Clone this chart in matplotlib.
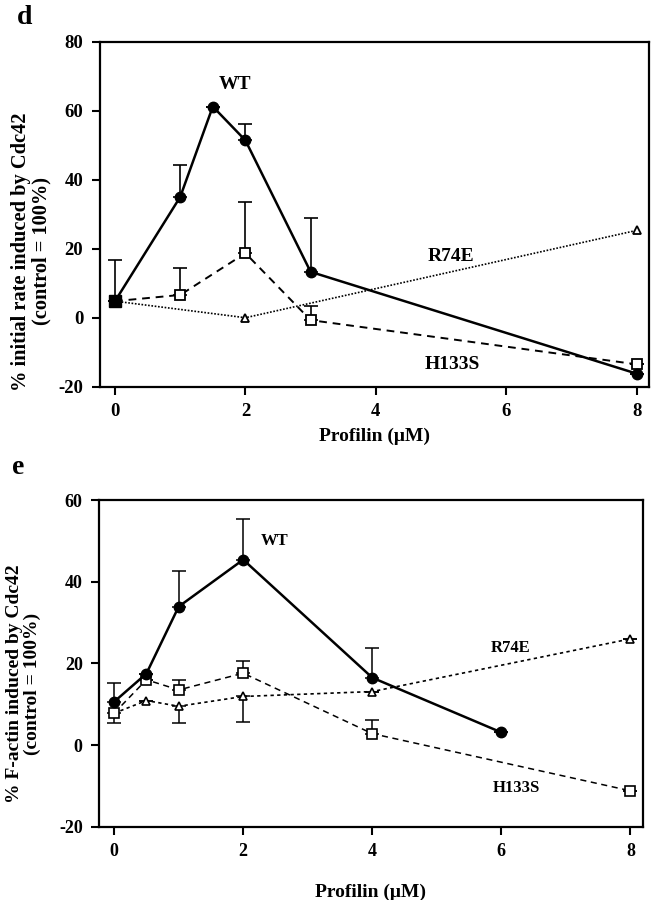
import numpy as np
import matplotlib
matplotlib.use("Agg")
import matplotlib.pyplot as plt

plt.rcParams['font.family'] = ['Liberation Serif', 'DejaVu Serif']
plt.rcParams['font.weight'] = 'bold'
plt.rcParams['axes.unicode_minus'] = False

# ---- panel d : initial rate ----
d_wt_x = [0, 1, 1.5, 2, 3, 8]
d_wt_y = [4.8, 35, 61.2, 51.4, 13.3, -16.2]
d_wt_up = [12, 9.2, 0, 4.8, 15.5, 0]

d_h_x = [0, 1, 2, 3, 8]
d_h_y = [4.8, 6.6, 18.7, -0.7, -13.5]
d_h_up = [0, 7.9, 14.9, 4.1, 0]

d_r_x = [0, 2, 8]
d_r_y = [4.8, 0, 25.3]

# ---- panel e : F-actin ----
e_wt_x = [0, 0.5, 1, 2, 4, 6]
e_wt_y = [10.6, 17.5, 33.9, 45.4, 16.5, 3.1]
e_wt_up = [4.7, 0, 8.8, 9.9, 7.3, 0]

e_h_x = [0, 0.5, 1, 2, 4, 8]
e_h_y = [7.8, 16.0, 13.5, 17.6, 2.8, -11.2]
e_h_up = [0, 0, 2.5, 3.0, 3.4, 0]
e_h_lo = [2.3, 0, 0, 0, 0, 0]

e_r_x = [0.5, 1, 2, 4, 8]
e_r_y = [10.9, 9.5, 11.9, 13.1, 26.0]
e_r_lo = [0, 4.1, 6.2, 0, 0]

fig = plt.figure(figsize=(6.55, 9), dpi=100)
axd = fig.add_axes([0.1527, 0.5703, 0.8381, 0.3834])
axe = fig.add_axes([0.1516, 0.0814, 0.8296, 0.3630])


def style(ax, ylim, yticks, fs):
    ax.set_xlim(-0.23, 8.19)
    ax.set_ylim(*ylim)
    ax.set_xticks([0, 2, 4, 6, 8])
    ax.set_yticks(yticks)
    for s in ax.spines.values():
        s.set_linewidth(1.6)
    ax.tick_params(direction='out', length=6, width=1.5, labelsize=fs, pad=6)
    for lab in ax.get_xticklabels() + ax.get_yticklabels():
        lab.set_fontweight('bold')


# panel d
axd.errorbar(d_wt_x, d_wt_y, yerr=[np.zeros(len(d_wt_up)), d_wt_up], fmt='none',
             ecolor='k', elinewidth=1.2, capsize=5, capthick=1.2, zorder=1)
axd.errorbar(d_h_x, d_h_y, yerr=[np.zeros(len(d_h_up)), d_h_up], fmt='none',
             ecolor='k', elinewidth=1.2, capsize=5, capthick=1.2, zorder=1)
axd.plot(d_r_x, d_r_y, color='k', ls=(0, (1, 1)), lw=1.2, marker='^', ms=6,
         mfc='white', mec='k', mew=1.3, zorder=2)
axd.plot(d_h_x, d_h_y, color='k', ls=(0, (4, 3)), lw=1.4, marker='s', ms=7,
         mfc='white', mec='k', mew=1.3, zorder=3)
axd.plot(d_wt_x, d_wt_y, color='k', ls='-', lw=1.8, marker='o', ms=7.5,
         mfc='k', mec='k', markevery=list(range(1, len(d_wt_x))), zorder=4)
axd.plot(d_wt_x[:1], d_wt_y[:1], 's', ms=8, mfc='k', mec='k', zorder=5)
axd.text(1.84, 67.7, 'WT', fontsize=14, fontweight='bold', ha='center', va='center')
axd.text(5.16, 17.6, 'R74E', fontsize=14, fontweight='bold', ha='center', va='center')
axd.text(5.18, -13.5, 'H133S', fontsize=14, fontweight='bold', ha='center', va='center')
style(axd, (-20, 80), [-20, 0, 20, 40, 60, 80], 13.5)
axd.set_xlabel('Profilin (\u03bcM)', fontsize=14, fontweight='bold', labelpad=5)
axd.set_ylabel('% initial rate induced by Cdc42\n(control = 100%)', fontsize=14.7,
               fontweight='bold', linespacing=1.0)
axd.yaxis.set_label_coords(-0.089, 0.392)
fig.text(0.025, 0.981, 'd', fontsize=20, fontweight='bold', va='center')

# panel e
axe.errorbar(e_wt_x, e_wt_y, yerr=[np.zeros(len(e_wt_up)), e_wt_up], fmt='none',
             ecolor='k', elinewidth=1.1, capsize=5, capthick=1.1, zorder=1)
axe.errorbar(e_h_x, e_h_y, yerr=[e_h_lo, e_h_up], fmt='none',
             ecolor='k', elinewidth=1.1, capsize=5, capthick=1.1, zorder=1)
axe.errorbar(e_r_x, e_r_y, yerr=[e_r_lo, np.zeros(len(e_r_lo))], fmt='none',
             ecolor='k', elinewidth=1.1, capsize=5, capthick=1.1, zorder=1)
axe.plot([e_h_x[0]] + e_r_x, [e_h_y[0]] + e_r_y, color='k', ls=(0, (2, 2)), lw=1.2,
         marker='^', ms=6, mfc='white', mec='k', mew=1.2,
         markevery=list(range(1, len(e_r_x) + 1)), zorder=2)
axe.plot(e_h_x, e_h_y, color='k', ls=(0, (4, 3)), lw=1.1, marker='s', ms=7,
         mfc='white', mec='k', mew=1.2, zorder=3)
axe.plot(e_wt_x, e_wt_y, color='k', ls='-', lw=1.8, marker='o', ms=7.5,
         mfc='k', mec='k', zorder=4)
axe.text(2.48, 50, 'WT', fontsize=12, fontweight='bold', ha='center', va='center')
axe.text(6.14, 23.7, 'R74E', fontsize=12, fontweight='bold', ha='center', va='center')
axe.text(6.24, -10.5, 'H133S', fontsize=12, fontweight='bold', ha='center', va='center')
style(axe, (-20, 60), [-20, 0, 20, 40, 60], 13)
axe.set_xlabel('Profilin (\u03bcM)', fontsize=14, fontweight='bold', labelpad=17)
axe.set_ylabel('% F-actin induced by Cdc42\n(control = 100%)', fontsize=14,
               fontweight='bold', linespacing=1.05)
axe.yaxis.set_label_coords(-0.107, 0.437)
fig.text(0.018, 0.48, 'e', fontsize=20, fontweight='bold', va='center')

fig.savefig('out.png', dpi=100)
